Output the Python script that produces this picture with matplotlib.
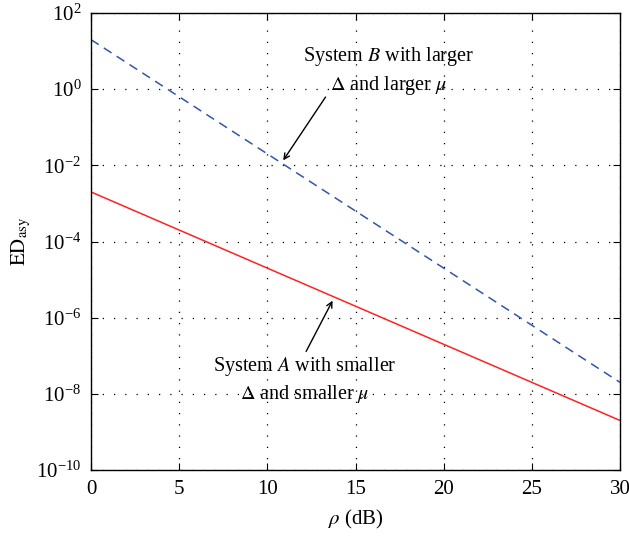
import numpy as np
import matplotlib
matplotlib.use("Agg")
import matplotlib.pyplot as plt

plt.rcParams['font.family'] = ['Liberation Serif', 'DejaVu Serif']
plt.rcParams['mathtext.fontset'] = 'stix'

# data (straight lines on the log scale)
rho_db = [0, 30]
ed_sys_b = [2.0e1, 2.0e-8]
ed_sys_a = [2.0e-3, 2.0e-9]

xticks = [0, 5, 10, 15, 20, 25, 30]
yticks = [1e2, 1e0, 1e-2, 1e-4, 1e-6, 1e-8, 1e-10]

fig = plt.figure(figsize=(6.29, 5.37), dpi=100)
ax = fig.add_axes([91/629, 1 - 470/537, 529/629, 457/537])

ax.semilogy(rho_db, ed_sys_b, ls=(0, (6, 4)), color='#3355aa', lw=1.1)
ax.semilogy(rho_db, ed_sys_a, ls='-', color='#ff2222', lw=1.1)

ax.set_xlim(0, 30)
ax.set_ylim(1e-10, 1e2)
ax.set_xticks(xticks)
ax.set_yticks(yticks)
ax.yaxis.set_minor_locator(matplotlib.ticker.NullLocator())
ax.tick_params(direction='in', top=True, right=True, labelsize=15,
               length=5, width=0.8, pad=7)
ax.grid(True, color='k', ls=(0, (1, 8)), lw=0.9)
for s in ax.spines.values():
    s.set_linewidth(1.0)

ax.set_xlabel(r'$\rho$ (dB)', fontsize=15, labelpad=7)
ax.set_ylabel(r'$\mathrm{ED}_{\mathrm{asy}}$', fontsize=15, labelpad=2)

ax.text(16.9, 3.0, 'System $B$ with larger\n$\\Delta$ and larger $\\mu$',
        ha='center', va='center', fontsize=14.5, linespacing=1.35)
ax.annotate('', xy=(10.9, 1.35e-2), xytext=(13.3, 0.62),
            arrowprops=dict(arrowstyle='->', color='k', lw=1.0,
                            shrinkA=0, shrinkB=0))
ax.text(12.1, 2.3e-8, 'System $A$ with smaller\n$\\Delta$ and smaller $\\mu$',
        ha='center', va='center', fontsize=14.5, linespacing=1.35)
ax.annotate('', xy=(13.7, 2.8e-6), xytext=(12.2, 1.3e-7),
            arrowprops=dict(arrowstyle='->', color='k', lw=1.0,
                            shrinkA=0, shrinkB=0))

fig.savefig('out.png', dpi=100)
